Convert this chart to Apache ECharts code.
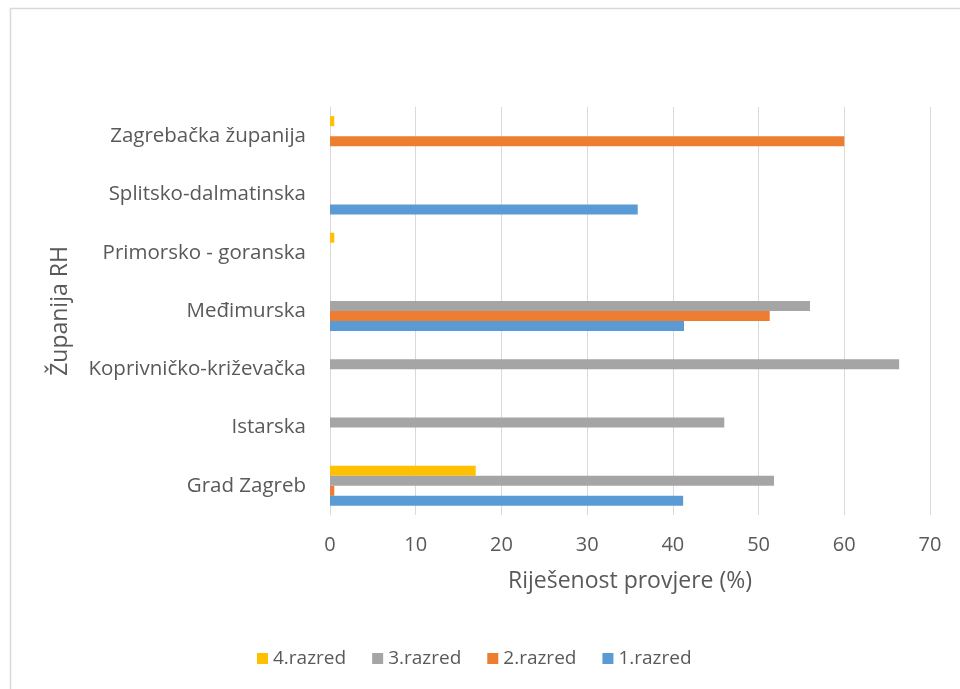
<!DOCTYPE html>
<html>
<head>
<meta charset="utf-8">
<script src="https://cdn.jsdelivr.net/npm/echarts@6/dist/echarts.min.js"></script>
<style>
  html, body { margin: 0; padding: 0; background: #fff; }
  #chart { width: 960px; height: 689px; }
</style>
</head>
<body>
<div id="chart"></div>
<script>
// županije (odozdo prema gore)
var zupanije = ['Grad Zagreb', 'Istarska', 'Koprivničko-križevačka', 'Međimurska',
  'Primorsko - goranska', 'Splitsko-dalmatinska', 'Zagrebačka županija'];
// riješenost po razredima (%)
var razred1 = [41.2, null, null, 41.3, null, 35.9, null];
var razred2 = [0.5, null, null, 51.3, null, null, 60.0];
var razred3 = [51.8, 46.0, 66.4, 56.0, null, null, null];
var razred4 = [17.0, null, null, null, 0.5, null, 0.5];
var legendaRed = ['4.razred', '3.razred', '2.razred', '1.razred'];

var font = '"Open Sans", sans-serif';
var siva = '#595959';

var myChart = echarts.init(document.getElementById('chart'));

function serija(ime, boja, podaci) {
  return {
    name: ime,
    type: 'bar',
    barWidth: 10,
    barGap: '0%',
    itemStyle: { color: boja },
    data: podaci
  };
}

var option = {
  animation: false,
  textStyle: { fontFamily: font },
  graphic: [{
    type: 'rect',
    shape: { x: 10.5, y: 8.5, width: 1000, height: 1000 },
    style: { fill: 'none', stroke: '#d9d9d9', lineWidth: 1.5 },
    silent: true
  }],
  grid: { left: 330, right: 30, top: 107, bottom: 174 },
  legend: {
    data: legendaRed,
    top: 644,
    left: 252,
    itemWidth: 11,
    itemHeight: 11,
    itemGap: 26,
    icon: 'rect',
    textStyle: { color: siva, fontSize: 19, fontFamily: font }
  },
  xAxis: {
    type: 'value',
    min: 0,
    max: 70,
    interval: 10,
    name: 'Riješenost provjere (%)',
    nameLocation: 'middle',
    nameGap: 55,
    nameTextStyle: { color: siva, fontSize: 23, fontFamily: font },
    axisLine: { show: false },
    axisTick: { show: false },
    axisLabel: { color: siva, fontSize: 20, margin: 20 },
    splitLine: { lineStyle: { color: '#d9d9d9', width: 1 } }
  },
  yAxis: {
    type: 'category',
    data: zupanije,
    name: 'Županija RH',
    nameLocation: 'middle',
    nameRotate: 90,
    nameGap: 258,
    nameTextStyle: { color: siva, fontSize: 23, fontFamily: font },
    axisLine: { show: true, lineStyle: { color: '#d9d9d9' } },
    axisTick: { show: false },
    axisLabel: { color: siva, fontSize: 20.5, margin: 24 }
  },
  series: [
    serija('4.razred', '#ffc000', razred4),
    serija('3.razred', '#a5a5a5', razred3),
    serija('2.razred', '#ed7d31', razred2),
    serija('1.razred', '#5b9bd5', razred1)
  ]
};

myChart.setOption(option);
</script>
</body>
</html>
